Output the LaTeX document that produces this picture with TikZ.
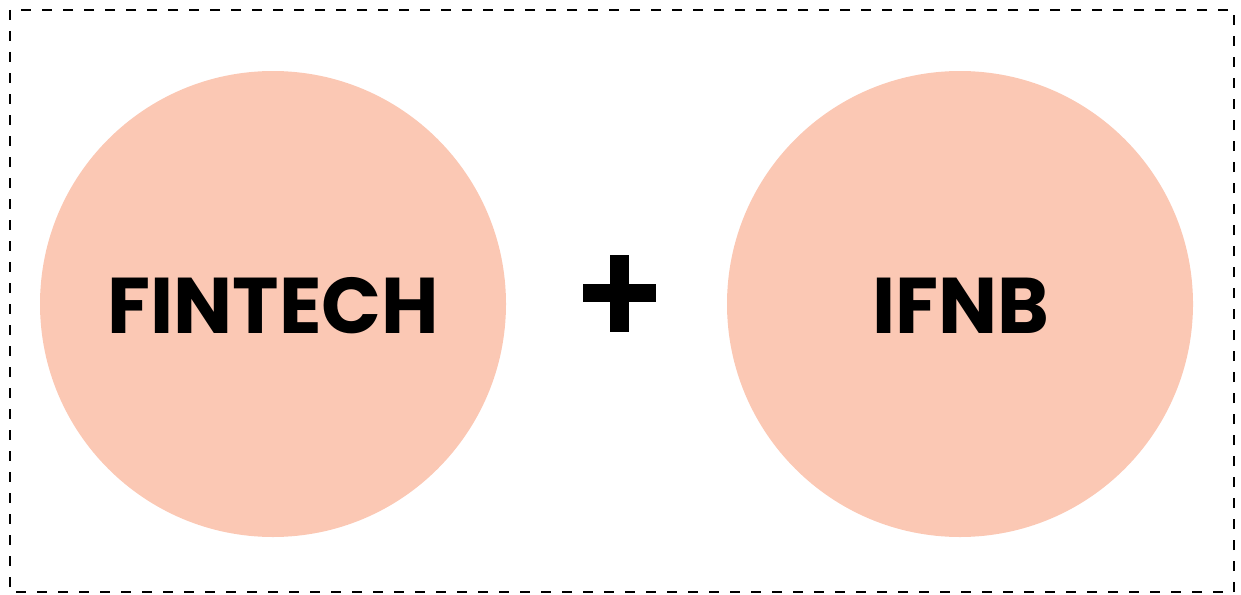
\documentclass[tikz,border=0pt]{standalone}
\usepackage{fontspec}
\setmainfont{Poppins}[UprightFont=* Bold]
\definecolor{peach}{HTML}{FBC8B4}
\begin{document}
\begin{tikzpicture}[x=1pt,y=-1pt,
  bubble/.style={circle,fill=peach,minimum size=466pt,inner sep=0pt},
  label/.style={font=\fontsize{79}{79}\selectfont,text=black,inner sep=0pt,anchor=base,xscale=0.995}]
\useasboundingbox (0,0) rectangle (1241,594);
\draw[line width=2.6pt,dash pattern=on 10pt off 11pt] (10,10) rectangle (1234,592);
\node[bubble] (left) at (273,304) {};
\node[bubble] (right) at (960,304) {};
\node[label] (fintech) at (273.5,333) {FINTECH};
\node[label] (ifnb) at (961,333) {IFNB};
\fill[black] (610,255) rectangle (629,332);
\fill[black] (583,284) rectangle (656,302);
\end{tikzpicture}
\end{document}
